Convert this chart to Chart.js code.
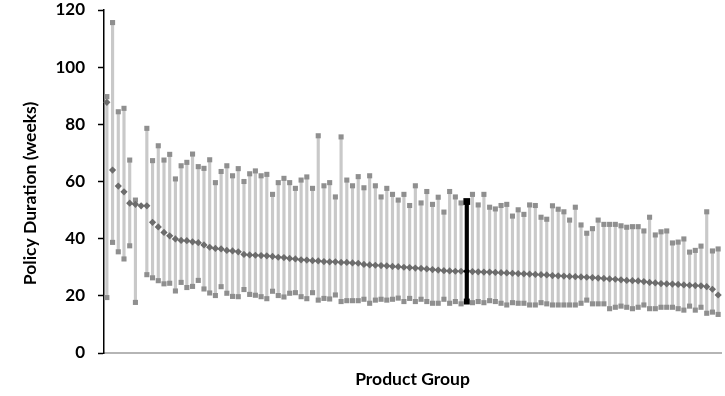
<!DOCTYPE html>
<html>
<head>
<meta charset="utf-8">
<script src="https://cdn.jsdelivr.net/npm/chart.js@4.4.1/dist/chart.umd.min.js"></script>
<style>
  html, body { margin: 0; padding: 0; background: #fff; }
</style>
</head>
<body>
<canvas id="chart" width="725" height="396"></canvas>
<script>
// ── Data (weeks) ──────────────────────────────────────────────────────────────
const HIGH = [
  89.7, 115.6, 84.4, 85.6, 67.5, 53.5, null, 78.6, 67.3, 72.5,
  67.5, 69.5, 60.9, 65.5, 66.7, 69.6, 65.2, 64.6, 67.6, 59.6,
  63.5, 65.5, 62.0, 64.5, 60.0, 62.7, 63.7, 62.0, 62.5, 55.5,
  59.6, 61.1, 59.6, 57.6, 60.5, 61.6, 57.6, 76.0, 58.5, 59.6,
  54.6, 75.6, 60.5, 58.5, 61.7, 57.8, 62.0, 58.5, 54.6, 57.6,
  55.5, 53.5, 55.5, 51.6, 58.5, 52.5, 56.5, 52.0, 54.5, 49.3,
  56.5, 54.6, 52.5, 53.0, 55.5, 51.8, 55.5, 51.0, 50.4, 51.6,
  52.0, 47.9, 50.1, 48.5, 51.8, 51.6, 47.5, 46.8, 51.5, 50.3,
  49.4, 46.5, 51.0, 44.8, 41.9, 43.5, 46.5, 45.0, 45.0, 45.0,
  44.5, 44.0, 44.2, 44.2, 42.7, 47.5, 41.3, 42.4, 42.7, 38.5,
  38.8, 39.9, 35.3, 35.9, 37.4, 49.4, 35.7, 36.4
];

const LOW = [
  19.4, 38.7, 35.4, 32.9, 37.5, 17.7, null, 27.4, 26.3, 25.3,
  24.2, 24.4, 21.7, 24.7, 22.9, 23.3, 25.4, 22.4, 21.0, 20.1,
  23.2, 20.9, 19.8, 19.7, 22.2, 20.5, 20.2, 19.7, 19.0, 21.6,
  20.1, 19.6, 20.9, 21.1, 19.7, 19.0, 21.1, 18.5, 19.1, 18.9,
  20.3, 18.0, 18.3, 18.3, 18.3, 18.8, 17.4, 18.5, 18.8, 18.5,
  18.8, 19.2, 18.0, 19.1, 18.0, 18.8, 18.0, 17.4, 17.4, 18.8,
  17.4, 18.0, 17.2, 18.0, 17.6, 18.0, 17.6, 18.3, 18.0, 17.4,
  16.8, 17.6, 17.4, 17.4, 16.8, 16.8, 17.6, 17.2, 16.8, 16.8,
  16.8, 16.8, 16.8, 17.4, 18.5, 17.2, 17.2, 17.2, 15.5, 16.0,
  16.4, 16.0, 15.5, 16.0, 16.8, 15.5, 15.5, 16.0, 16.0, 16.0,
  15.5, 15.0, 16.4, 15.0, 16.0, 13.9, 14.3, 13.5
];

const MEDIAN = [
  87.7, 64.0, 58.4, 56.4, 52.4, 52.0, 51.5, 51.5, 45.7, 44.1,
  42.2, 41.0, 39.9, 39.4, 39.3, 38.9, 38.6, 37.8, 37.0, 36.6,
  36.4, 35.9, 35.7, 35.4, 34.5, 34.3, 34.2, 34.1, 34.0, 33.8,
  33.5, 33.4, 33.1, 32.9, 32.6, 32.5, 32.3, 32.2, 32.0, 31.9,
  31.9, 31.7, 31.7, 31.5, 31.4, 31.0, 30.8, 30.7, 30.6, 30.5,
  30.3, 30.2, 30.0, 29.9, 29.7, 29.6, 29.4, 29.2, 29.0, 28.8,
  28.7, 28.6, 28.6, 28.6, 28.5, 28.4, 28.3, 28.3, 28.2, 28.1,
  28.0, 27.9, 27.8, 27.7, 27.6, 27.5, 27.4, 27.3, 27.1, 27.0,
  26.9, 26.8, 26.7, 26.6, 26.5, 26.4, 26.2, 26.1, 25.9, 25.8,
  25.6, 25.4, 25.3, 25.2, 25.0, 24.7, 24.5, 24.3, 24.2, 24.1,
  24.0, 23.8, 23.7, 23.6, 23.5, 23.2, 22.3, 20.3
];

// product groups are unnamed on the chart
const GROUPS = MEDIAN.map((_, i) => 'Group ' + (i + 1));
const HILITE = 63; // the group drawn in black

const Y_TICKS = [0, 20, 40, 60, 80, 100, 120];
const Y_TITLE = 'Policy Duration (weeks)';
const X_TITLE = 'Product Group';

// ── Styles ────────────────────────────────────────────────────────────────────
const FONT = 'Lato';
const RANGE_GREY  = '#c9c9c9';
const SQUARE_GREY = '#8f8f8f';
const DIAMOND_GREY = '#6c6c6c';

const ranges = HIGH.map((h, i) => (h == null || LOW[i] == null ? null : [LOW[i], h]));
const hiliteRange = ranges.map((r, i) => (i === HILITE ? r : null));

const pick = (normal, black) => (ctx) => (ctx.dataIndex === HILITE ? black : normal);

// y title drawn by hand: Excel centres it a little lower than the plot middle
const yTitlePlugin = {
  id: 'yTitle',
  afterDraw(chart) {
    const { ctx, chartArea } = chart;
    ctx.save();
    ctx.translate(30, chartArea.top + (chartArea.bottom - chartArea.top) / 2 + 12);
    ctx.rotate(-Math.PI / 2);
    ctx.font = `bold 17.5px ${FONT}`;
    ctx.fillStyle = '#000';
    ctx.textAlign = 'center';
    ctx.textBaseline = 'middle';
    ctx.fillText(Y_TITLE, 0, 0);
    ctx.restore();
  },
};

new Chart(document.getElementById('chart'), {
  type: 'bar',
  data: {
    labels: GROUPS,
    datasets: [
      {
        label: 'Range',
        data: ranges,
        backgroundColor: RANGE_GREY,
        barThickness: 2.5,
        grouped: false,
        order: 6,
      },
      {
        label: 'Highlighted range',
        data: hiliteRange,
        backgroundColor: '#000',
        barThickness: 3.5,
        grouped: false,
        order: 5,
      },
      {
        type: 'line',
        label: 'Maximum',
        data: HIGH,
        showLine: false,
        pointStyle: 'rect',
        pointRadius: pick(3.6, 4.8),
        pointBorderWidth: 0,
        pointBackgroundColor: pick(SQUARE_GREY, '#000'),
        order: 3,
      },
      {
        type: 'line',
        label: 'Minimum',
        data: LOW,
        showLine: false,
        pointStyle: 'rect',
        pointRadius: pick(3.6, 4.2),
        pointBorderWidth: 0,
        pointBackgroundColor: pick(SQUARE_GREY, '#000'),
        order: 3,
      },
      {
        type: 'line',
        label: 'Median',
        data: MEDIAN,
        showLine: false,
        pointStyle: 'rectRot',
        pointRadius: 3.6,
        pointBorderWidth: 0,
        pointBackgroundColor: pick(DIAMOND_GREY, '#000'),
        order: 2,
      },
    ],
  },
  options: {
    responsive: false,
    animation: false,
    layout: { padding: { top: 10, right: 0, bottom: 0, left: 0 } },
    plugins: {
      legend: { display: false },
      tooltip: { enabled: false },
    },
    scales: {
      x: {
        type: 'category',
        offset: true,
        grid: { display: false },
        ticks: { display: false },
        border: { color: '#b5b5b5', width: 2 },
        title: {
          display: true,
          text: X_TITLE,
          color: '#000',
          font: { family: FONT, size: 17.5, weight: 'bold' },
          padding: { top: 0, bottom: 6 },
        },
        afterFit: (scale) => { scale.height = 43; },
      },
      y: {
        min: 0,
        max: 120,
        afterBuildTicks: (scale) => { scale.ticks = Y_TICKS.map((v) => ({ value: v })); },
        grid: {
          drawOnChartArea: false,
          drawTicks: true,
          tickLength: 6,
          tickColor: '#000',
          tickWidth: 1.5,
        },
        border: { color: '#000', width: 1.5 },
        ticks: {
          color: '#000',
          padding: 13,
          font: { family: FONT, size: 17, weight: 'bold' },
        },
        afterFit: (scale) => {
          scale.width = 104;
          scale.paddingTop = 0;
          scale.paddingBottom = 0;
        },
      },
    },
  },
  plugins: [yTitlePlugin],
});
</script>
</body>
</html>
